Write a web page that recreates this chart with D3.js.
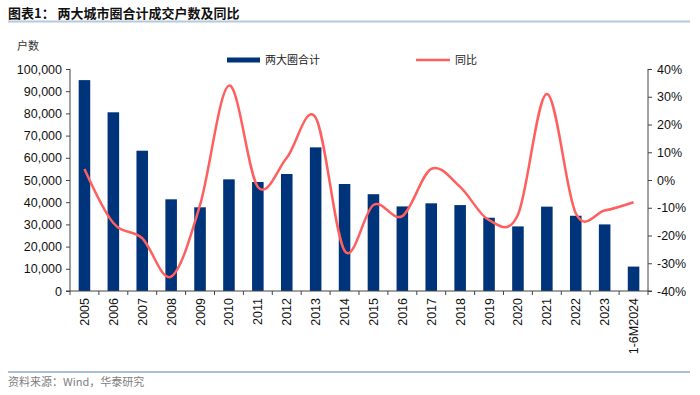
<!DOCTYPE html>
<html>
<head>
<meta charset="utf-8">
<script src="https://cdn.jsdelivr.net/npm/d3@7"></script>
<style>
  body { margin: 0; background: #fff; }
  svg { display: block; }
  text { font-family: "Liberation Sans", Arial, sans-serif; }
  .cjk { font-family: "Noto Sans CJK SC", sans-serif; }
</style>
</head>
<body>
<script>
const years = ['2005', '2006', '2007', '2008', '2009', '2010', '2011', '2012', '2013', '2014',
  '2015', '2016', '2017', '2018', '2019', '2020', '2021', '2022', '2023', '1-6M2024'];
// 两大圈合计 (户)
const volumes = [95000, 80500, 63200, 41300, 37700, 50300, 49100, 52700, 64700, 48200,
  43600, 38100, 39500, 38700, 33000, 29100, 38000, 33900, 30000, 11000];
// 同比 (%)
const yoy = [4, -15.5, -21, -34.8, -9, 34, -2.5, 8, 22.5, -25.5,
  -9, -13, 4, -2.5, -14.5, -12.5, 31, -12, -11, -8];
const leftTicks = [0, 10000, 20000, 30000, 40000, 50000, 60000, 70000, 80000, 90000, 100000];
const rightTicks = [-40, -30, -20, -10, 0, 10, 20, 30, 40];

const W = 700, H = 395;
const m = { left: 70, right: 648, top: 69, bottom: 291 };
const barColor = '#00347A';
const lineColor = '#FF5F5F';

const svg = d3.select('body').append('svg')
  .attr('width', W)
  .attr('height', H);

// title
svg.append('text')
  .attr('class', 'cjk')
  .attr('x', 8)
  .attr('y', 18)
  .attr('font-size', 13)
  .attr('font-weight', 'bold')
  .attr('fill', '#111')
  .text('图表1：  两大城市圈合计成交户数及同比');
svg.append('line')
  .attr('x1', 8).attr('x2', 690)
  .attr('y1', 21.5).attr('y2', 21.5)
  .attr('stroke', '#B8C8DC')
  .attr('stroke-width', 2);

svg.append('text')
  .attr('class', 'cjk')
  .attr('x', 17)
  .attr('y', 50)
  .attr('font-size', 11)
  .attr('fill', '#333')
  .text('户数');

// scales
const x = d3.scaleBand()
  .domain(years)
  .range([m.left, m.right])
  .paddingInner(0.6)
  .paddingOuter(0.3);
const xc = d => x(d) + x.bandwidth() / 2;
const step = (m.right - m.left) / years.length;

const yL = d3.scaleLinear().domain([0, 100000]).range([m.bottom, m.top]);
const yR = d3.scaleLinear().domain([-40, 40]).range([m.bottom, m.top]);

// bars
svg.append('g')
  .selectAll('rect')
  .data(volumes)
  .join('rect')
  .attr('x', (d, i) => x(years[i]))
  .attr('y', d => yL(d))
  .attr('width', x.bandwidth())
  .attr('height', d => yL(0) - yL(d))
  .attr('fill', barColor);

// yoy line
const line = d3.line()
  .x((d, i) => xc(years[i]))
  .y(d => yR(d))
  .curve(d3.curveCardinal.tension(0));
svg.append('path')
  .datum(yoy)
  .attr('d', line)
  .attr('fill', 'none')
  .attr('stroke', lineColor)
  .attr('stroke-width', 2.5);

// left axis
const axL = svg.append('g')
  .attr('transform', `translate(${m.left},0)`)
  .call(d3.axisLeft(yL).tickValues(leftTicks).tickSize(4).tickPadding(4)
    .tickFormat(d3.format(',')));
// right axis
const axR = svg.append('g')
  .attr('transform', `translate(${m.right},0)`)
  .call(d3.axisRight(yR).tickValues(rightTicks).tickSize(4).tickPadding(5)
    .tickFormat(d => d + '%'));
[axL, axR].forEach(a => {
  a.select('.domain').attr('stroke', '#444').attr('d', `M0,${m.top}V${m.bottom}`);
  a.selectAll('.tick line').attr('stroke', '#444');
  a.selectAll('.tick text').attr('font-size', 12.5).attr('fill', '#111')
    .attr('font-family', '"Liberation Sans", Arial, sans-serif');
});

// x axis
const axX = svg.append('g')
  .attr('transform', `translate(0,${m.bottom})`);
axX.append('line')
  .attr('x1', m.left - 4).attr('x2', m.right + 4)
  .attr('stroke', '#444');
axX.selectAll('line.tk')
  .data(d3.range(years.length + 1))
  .join('line')
  .attr('class', 'tk')
  .attr('x1', i => m.left + i * step)
  .attr('x2', i => m.left + i * step)
  .attr('y1', 0).attr('y2', 4)
  .attr('stroke', '#444');
axX.selectAll('text')
  .data(years)
  .join('text')
  .attr('transform', d => `translate(${xc(d) + 4.5},7) rotate(-90)`)
  .attr('text-anchor', 'end')
  .attr('font-size', 12.5)
  .attr('fill', '#111')
  .text(d => d);

// legend
const lg = svg.append('g');
lg.append('rect')
  .attr('x', 227).attr('y', 57.5)
  .attr('width', 33).attr('height', 5)
  .attr('fill', barColor);
lg.append('text')
  .attr('class', 'cjk')
  .attr('x', 265).attr('y', 64)
  .attr('font-size', 11)
  .attr('fill', '#222')
  .text('两大圈合计');
lg.append('line')
  .attr('x1', 416).attr('x2', 450)
  .attr('y1', 60).attr('y2', 60)
  .attr('stroke', lineColor)
  .attr('stroke-width', 2.5);
lg.append('text')
  .attr('class', 'cjk')
  .attr('x', 455).attr('y', 64)
  .attr('font-size', 11)
  .attr('fill', '#222')
  .text('同比');

// footer
svg.append('line')
  .attr('x1', 8).attr('x2', 690)
  .attr('y1', 372).attr('y2', 372)
  .attr('stroke', '#8FA8CC')
  .attr('stroke-width', 1.5);
svg.append('text')
  .attr('class', 'cjk')
  .attr('x', 8)
  .attr('y', 386)
  .attr('font-size', 11)
  .attr('fill', '#808080')
  .text('资料来源：Wind，华泰研究');
</script>
</body>
</html>
